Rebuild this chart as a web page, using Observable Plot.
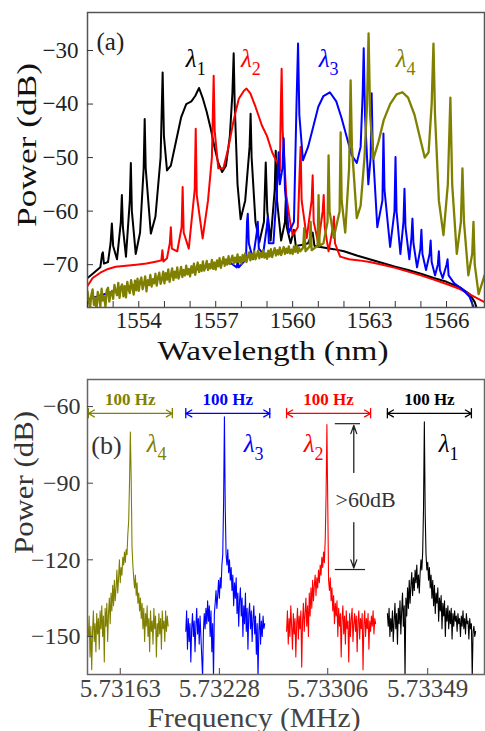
<!DOCTYPE html>
<html><head><meta charset="utf-8">
<script src="https://cdn.jsdelivr.net/npm/d3@7"></script>
<script src="https://cdn.jsdelivr.net/npm/@observablehq/plot@0.6"></script>
<style>
body{margin:0;background:#fff}
#chart svg{display:block}
#chart svg, #chart svg text{font-family:"Liberation Serif","Times New Roman",serif !important}
</style>
</head><body><div id="chart"></div>
<script>
// ---------- Panel (a): optical spectra, [wavelength nm, power dB] ----------
const lambda1A = [[1552.0,-72.5],[1552.25,-71.5],[1552.5,-70.5],[1552.57,-68],[1552.6,-67.7],[1552.64,-69.8],[1552.8,-69.5],[1552.9,-66],[1552.95,-62.3],[1553.0,-66.5],[1553.15,-69],[1553.3,-62],[1553.34,-57],[1553.38,-63],[1553.5,-68.5],[1553.65,-58],[1553.69,-51],[1553.73,-60],[1553.88,-68],[1554.05,-64],[1554.19,-52],[1554.23,-42.8],[1554.27,-52],[1554.47,-64.2],[1554.65,-61],[1554.85,-50],[1554.93,-34.1],[1554.98,-46],[1555.1,-52.4],[1555.25,-51.5],[1555.45,-47],[1555.65,-42.5],[1555.85,-40],[1556.05,-39.5],[1556.2,-38.5],[1556.35,-37],[1556.5,-39],[1556.65,-41.5],[1556.8,-44.5],[1556.95,-48],[1557.1,-51],[1557.25,-52.7],[1557.4,-51.5],[1557.55,-46],[1557.65,-38],[1557.70,-30.5],[1557.74,-40],[1557.85,-55],[1557.97,-61.5],[1558.15,-58],[1558.32,-48],[1558.36,-41.8],[1558.4,-50],[1558.55,-62],[1558.7,-65.8],[1558.88,-62],[1558.95,-50.9],[1559.01,-60],[1559.14,-65.5],[1559.3,-56],[1559.34,-48.7],[1559.39,-58],[1559.55,-65.5],[1559.7,-62],[1559.73,-58],[1559.77,-63],[1559.92,-66],[1560.05,-63.5],[1560.12,-66.5],[1560.4,-66.3],[1560.6,-66],[1560.78,-64],[1560.85,-66.5],[1561.2,-66.8],[1561.6,-67.1],[1562,-67.5],[1562.5,-68.3],[1563,-69],[1563.5,-69.7],[1564,-70.4],[1564.5,-71],[1565,-71.7],[1565.5,-72.5],[1566,-73.2],[1566.5,-74.2],[1566.9,-75.5],[1567.1,-77],[1567.2,-78.5]];
const lambda2A = [[1552.0,-74],[1552.2,-72.5],[1552.5,-71.5],[1552.8,-70.8],[1553.1,-70.4],[1553.5,-70.2],[1553.9,-70],[1554.3,-69.8],[1554.7,-69.4],[1554.88,-69.2],[1554.92,-67.3],[1554.96,-69.4],[1555.1,-68.8],[1555.21,-66],[1555.25,-63],[1555.29,-67],[1555.5,-67.5],[1555.67,-63],[1555.71,-55.5],[1555.75,-64],[1555.95,-67],[1556.18,-56],[1556.22,-44.6],[1556.26,-57],[1556.49,-65.1],[1556.7,-58],[1556.85,-50],[1556.92,-34.7],[1556.96,-45],[1557.1,-52],[1557.3,-52],[1557.5,-48],[1557.7,-43],[1557.9,-39],[1558.1,-37.5],[1558.2,-37.1],[1558.35,-38],[1558.55,-40.5],[1558.8,-44],[1559.0,-46],[1559.2,-49],[1559.4,-51],[1559.5,-52.5],[1559.54,-40],[1559.57,-33.4],[1559.61,-45],[1559.75,-57],[1559.9,-62],[1560.0,-64.5],[1560.2,-63],[1560.27,-53],[1560.31,-48],[1560.35,-58],[1560.55,-65],[1560.74,-58],[1560.78,-53.3],[1560.82,-62],[1561.0,-66],[1561.17,-60],[1561.21,-57],[1561.25,-63],[1561.4,-67.5],[1561.57,-63],[1561.61,-61],[1561.65,-66],[1561.85,-68.5],[1562.2,-69],[1562.6,-69.2],[1563,-69.5],[1563.5,-70],[1564,-70.6],[1564.5,-71.3],[1565,-72],[1565.5,-72.8],[1566,-73.6],[1566.5,-74.5],[1567,-75.8],[1567.48,-77]];
const lambda3A = [[1552.0,-76.5],[1553,-75],[1554,-73.6],[1555,-72.4],[1556,-71.2],[1557,-70],[1557.5,-69.4],[1557.82,-70.5],[1557.86,-69],[1557.9,-70.5],[1558.18,-69],[1558.22,-62],[1558.25,-60.5],[1558.29,-66],[1558.45,-69],[1558.6,-64],[1558.64,-62],[1558.68,-67],[1558.85,-68],[1558.99,-63],[1559.03,-61],[1559.07,-66],[1559.25,-66],[1559.41,-54],[1559.45,-49],[1559.5,-55],[1559.6,-52],[1559.65,-46.4],[1559.7,-56],[1559.85,-64],[1560.05,-62],[1560.15,-40],[1560.21,-28.7],[1560.26,-42],[1560.4,-50.5],[1560.6,-48],[1560.8,-44.3],[1561.0,-40.5],[1561.2,-38.5],[1561.45,-37.8],[1561.7,-39.5],[1561.9,-42.5],[1562.1,-46],[1562.3,-49.5],[1562.5,-51],[1562.65,-48],[1562.73,-38],[1562.77,-29.6],[1562.82,-42],[1562.95,-55],[1563.04,-50],[1563.08,-38],[1563.12,-48],[1563.3,-63],[1563.5,-58],[1563.54,-45.5],[1563.58,-56],[1563.8,-66.7],[1563.97,-60],[1564.01,-49.9],[1564.05,-60],[1564.2,-68],[1564.32,-62],[1564.36,-55.8],[1564.4,-63],[1564.55,-69],[1564.63,-65],[1564.67,-61.4],[1564.71,-66],[1564.85,-70.5],[1564.98,-67],[1565.02,-63.5],[1565.06,-68],[1565.2,-71],[1565.34,-68],[1565.38,-65.5],[1565.42,-69.5],[1565.55,-72],[1565.66,-70],[1565.7,-67.5],[1565.74,-71],[1565.85,-72.5],[1566.0,-70],[1566.04,-69],[1566.08,-72],[1566.3,-73.5],[1566.6,-74.5],[1566.9,-76],[1567.1,-78.5]];
// λ4 noisy floor, sampled every 0.05 nm from 1552.00 nm
const lambda4FloorStart = 1552.0, lambda4FloorStep = 0.05;
const lambda4FloorA = [
-75.0,-76.8,-78.2,-75.6,-74.6,-77.5,-76.2,-78.6,-75.1,-76.0,-77.8,-74.5,-76.7,-75.9,-77.9,-74.8,-74.3,-76.9,-75.4,-74.9,
-76.4,-73.8,-74.9,-75.7,-73.4,-76.2,-74.2,-73.7,-75.9,-74.0,-76.1,-73.2,-74.6,-75.3,-72.9,-74.3,-75.6,-73.0,-74.8,-72.6,
-74.9,-73.1,-72.4,-74.6,-73.6,-72.2,-75.0,-72.9,-73.8,-71.9,-74.1,-72.7,-73.5,-71.7,-73.9,-72.4,-71.5,-73.6,-72.8,-71.3,
-73.5,-71.6,-72.8,-70.9,-73.2,-71.9,-70.7,-72.9,-71.3,-72.4,-70.5,-72.6,-71.7,-70.4,-72.3,-71.0,-72.0,-70.2,-71.8,-70.8,
-72.2,-70.3,-71.5,-69.8,-71.9,-70.6,-69.6,-71.4,-70.1,-71.2,-69.4,-71.1,-70.4,-69.3,-71.0,-69.9,-70.7,-69.1,-70.8,-69.6,
-70.9,-69.2,-70.3,-68.8,-70.6,-69.5,-68.6,-70.2,-69.0,-70.0,-68.4,-69.9,-69.1,-68.3,-69.8,-68.7,-69.6,-68.1,-69.5,-68.6,
-69.8,-68.2,-69.3,-67.9,-69.5,-68.5,-67.7,-69.2,-68.1,-68.9,-67.5,-69.0,-68.3,-67.4,-68.8,-67.8,-68.6,-67.3,-68.7,-67.9,
-68.9,-67.4,-68.5,-67.1,-68.6,-67.7,-66.9,-68.3,-67.3,-68.1,-66.8,-68.2,-67.5,-66.7,-68.0,-67.0,-67.8,-66.6,-67.9,-67.2,
-68.0,-66.6,-67.6,-66.4,-67.8,-66.9,-67.5];
const lambda4LinesA = [[1560.41,-66.8],[1560.45,-63.2],[1560.5,-67.5],[1560.66,-66.6],[1560.70,-62],[1560.74,-67.3],[1560.97,-66.5],[1561.01,-57],[1561.05,-66.5],[1561.2,-66],[1561.36,-62],[1561.40,-49.6],[1561.44,-60],[1561.6,-65],[1561.83,-60],[1561.87,-45.3],[1561.91,-58],[1562.05,-64],[1562.2,-52],[1562.26,-35.6],[1562.31,-48],[1562.5,-61.3],[1562.65,-59],[1562.8,-50],[1562.9,-40],[1562.96,-26.8],[1563.02,-42],[1563.15,-50.2],[1563.35,-47],[1563.55,-43],[1563.8,-40],[1564.05,-38.2],[1564.28,-37.8],[1564.5,-38.8],[1564.75,-42],[1564.95,-46],[1565.15,-50],[1565.3,-49],[1565.42,-40],[1565.49,-28.7],[1565.55,-42],[1565.7,-58],[1565.88,-64.5],[1566.05,-55],[1566.15,-38.8],[1566.22,-55],[1566.4,-68],[1566.56,-62],[1566.62,-52],[1566.68,-62],[1566.85,-72],[1567.0,-68],[1567.05,-62],[1567.1,-70],[1567.25,-75.5],[1567.35,-74],[1567.48,-72]];
const lambda4A = lambda4FloorA.map((y, i) => [lambda4FloorStart + i * lambda4FloorStep, y]).concat(lambda4LinesA);

const seriesNames = ["λ1","λ2","λ3","λ4"];
const seriesColors = ["#000000","#ff0000","#0000ff","#808000"];

const xTicksA = [1554,1557,1560,1563,1566];
const xMinorTicksA = [1552,1553,1554,1555,1556,1557,1558,1559,1560,1561,1562,1563,1564,1565,1566,1567];
const yTicksA = [-30,-40,-50,-60,-70];
const labelPosA = [[1556.14,-31.6],[1558.29,-31.6],[1561.32,-31.6],[1564.32,-31.6]];

// ---------- Panel (b): RF spectra, 1 Hz steps within each 100 Hz window ----------
const lambda4B = [-150,-142,-158,-146,-163,-148,-140,-152,-145,-156,-141,-149,-143,-155,-140,-147,-138,-150,-142,-160,-139,-146,-137,-152,-141,-135,-145,-133,-140,-130,-138,-128,-136,-131,-124,-133,-127,-120,-129,-123,-126,-119,-122,-117,-121,-116,-118,-110,-105,-90,-70,-88,-115,-122,-127,-131,-126,-134,-129,-137,-133,-140,-135,-143,-137,-147,-139,-152,-141,-146,-138,-150,-143,-156,-140,-148,-144,-153,-139,-147,-142,-158,-145,-150,-141,-149,-143,-155,-140,-147,-144,-152,-140,-148,-142,-146];
const lambda3B = [-148,-140,-155,-143,-152,-145,-160,-147,-141,-150,-144,-156,-146,-139,-149,-143,-153,-142,-150,-158,-166,-148,-141,-147,-139,-145,-136,-144,-138,-150,-140,-156,-145,-166,-141,-137,-132,-139,-134,-128,-135,-127,-131,-122,-118,-98,-64,-100,-118,-122,-116,-125,-120,-128,-123,-132,-126,-138,-129,-135,-127,-141,-133,-146,-136,-131,-142,-135,-150,-138,-145,-133,-148,-139,-155,-141,-137,-147,-140,-152,-143,-138,-149,-142,-157,-145,-166,-148,-141,-153,-144,-150,-142,-147,-145];
const lambda2B = [-148,-140,-153,-143,-150,-138,-146,-155,-141,-149,-143,-158,-145,-139,-151,-142,-147,-140,-162,-144,-137,-148,-141,-135,-146,-138,-150,-133,-142,-131,-139,-128,-136,-130,-126,-134,-127,-131,-124,-129,-122,-126,-119,-123,-117,-121,-112,-95,-67,-98,-128,-132,-127,-136,-131,-140,-134,-145,-137,-142,-136,-150,-139,-146,-141,-158,-143,-138,-149,-142,-153,-140,-147,-144,-160,-141,-150,-143,-139,-152,-145,-141,-148,-142,-156,-144,-140,-151,-143,-147,-141,-163,-145,-140,-150,-143,-147,-141,-155,-144,-148,-142,-146,-140,-149,-143,-145];
const lambda1B = [-141,-146,-139,-150,-143,-148,-140,-152,-144,-137,-147,-141,-153,-139,-145,-136,-149,-140,-133,-146,-138,-166,-135,-142,-131,-139,-128,-137,-130,-125,-134,-127,-132,-124,-129,-122,-131,-126,-133,-125,-120,-124,-117,-100,-66,-102,-118,-124,-121,-128,-123,-131,-126,-135,-128,-138,-130,-141,-133,-137,-131,-144,-135,-140,-134,-147,-137,-142,-136,-150,-139,-144,-138,-147,-140,-145,-139,-151,-141,-146,-140,-144,-142,-148,-141,-145,-143,-150,-142,-146,-140,-147,-143,-149,-141,-145,-144,-151,-143,-147,-145,-166,-148,-146,-150,-148];

// broken-axis layout of panel (b)
const segOrder = [3, 2, 1, 0];           // left to right: λ4, λ3, λ2, λ1
const segStart = [1, 117, 237, 357];
const xTicksB = [39, 157, 286, 405];
const xTickLabelsB = ["5.73163","5.73228","5.73306","5.73349"];
const yTicksB = [-60,-90,-120,-150];
const spanHz = 100;
const spanLabel = "100 Hz";
const spanArrowY = -62.7, spanBar = [-60.8,-64.8], spanTextY = -57.4;
const labelPosB = [[79.8,-74.8],[195.2,-74.8],[266.7,-74.8],[427.4,-74.8]];
const panelLetterB = [22.6,-75.5];
const dynX = 317, dynTop = -66.7, dynBottom = -123.8, dynBarTop = [295,325], dynBarBottom = [295,331];
const dynArrowUp = [-85.8,-67.4], dynArrowDown = [-105.4,-123.2], dynText = [331,-96.5];

const serif = "'Liberation Serif', 'Times New Roman', serif";
const svgStyle = `font-family: ${serif}; background: white; overflow: visible;`;

// ---------- panel (a) ----------
const seriesA = [lambda1A, lambda2A, lambda3A, lambda4A];
const marksA = [];
seriesA.forEach((s, i) => {
  marksA.push(Plot.line(s, {x: d => d[0], y: d => d[1], stroke: seriesColors[i], strokeWidth: i === 3 ? 2.3 : 2, clip: true}));
});
marksA.push(
  Plot.frame({stroke: "#555", strokeWidth: 1.5}),
  Plot.axisX({ticks: xMinorTicksA, tickSize: -6, tickFormat: () => "", label: null, stroke: "#333"}),
  Plot.axisX({ticks: xTicksA, tickSize: 0, tickPadding: 4, tickFormat: d3.format("d"), fontSize: 23, label: null, fill: "#222"}),
  Plot.axisY({ticks: yTicksA, tickSize: -6, tickFormat: () => "", label: null, stroke: "#333"}),
  Plot.axisY({ticks: yTicksA, tickSize: 0, tickPadding: 9, fontSize: 23, label: null, fill: "#222"}),
  Plot.text(["Power (dB)"], {frameAnchor: "left", rotate: -90, textAnchor: "start", dx: -60, dy: 67, fontSize: 28, fill: "#111"}),
  Plot.text(["Wavelength (nm)"], {frameAnchor: "bottom", lineAnchor: "bottom", dx: -13, dy: 52, fontSize: 28, fill: "#111"}),
  Plot.text(["(a)"], {frameAnchor: "top-left", textAnchor: "start", lineAnchor: "top", dx: 9, dy: 20, fontSize: 25, fill: "#222"}),
  Plot.text(labelPosA, {x: d => d[0], y: d => d[1], text: () => "λ", fill: (d, i) => seriesColors[i], fontStyle: "italic", fontSize: 25, textAnchor: "end", dx: 3}),
  Plot.text(labelPosA, {x: d => d[0], y: d => d[1], text: (d, i) => seriesNames[i].slice(1), fill: (d, i) => seriesColors[i], fontSize: 18, textAnchor: "start", dx: 3, dy: 10})
);
const plotA = Plot.plot({
  width: 485, height: 370, marginTop: 12, marginBottom: 63, marginLeft: 87, marginRight: 1,
  style: svgStyle,
  x: {domain: [1552.0, 1567.48]},
  y: {domain: [-78, -22.9]},
  marks: marksA
});

// ---------- panel (b) ----------
const seriesB = [lambda1B, lambda2B, lambda3B, lambda4B];
const segs = segOrder.map((si, k) => ({si, start: segStart[k], color: seriesColors[si], name: seriesNames[si]}));
const marksB = [];
segs.forEach(seg => {
  marksB.push(Plot.line(seriesB[seg.si], {x: (d, i) => seg.start + i, y: d => d, stroke: seg.color, strokeWidth: 1.1, clip: true}));
});
marksB.push(
  Plot.arrow(segs, {x1: d => d.start + spanHz / 2, x2: d => d.start, y1: spanArrowY, y2: spanArrowY, stroke: d => d.color, strokeWidth: 1.3, headLength: 8}),
  Plot.arrow(segs, {x1: d => d.start + spanHz / 2, x2: d => d.start + spanHz, y1: spanArrowY, y2: spanArrowY, stroke: d => d.color, strokeWidth: 1.3, headLength: 8}),
  Plot.ruleX(segs, {x: d => d.start, y1: spanBar[0], y2: spanBar[1], stroke: d => d.color, strokeWidth: 1.3}),
  Plot.ruleX(segs, {x: d => d.start + spanHz, y1: spanBar[0], y2: spanBar[1], stroke: d => d.color, strokeWidth: 1.3}),
  Plot.text(segs, {x: d => d.start + spanHz / 2, y: spanTextY, text: () => spanLabel, fill: d => d.color, fontSize: 17, fontWeight: "bold"}),
  Plot.ruleY([dynTop], {x1: dynBarTop[0], x2: dynBarTop[1], stroke: "#222", strokeWidth: 1.2}),
  Plot.ruleY([dynBottom], {x1: dynBarBottom[0], x2: dynBarBottom[1], stroke: "#222", strokeWidth: 1.2}),
  Plot.arrow([0], {x1: dynX, x2: dynX, y1: dynArrowUp[0], y2: dynArrowUp[1], stroke: "#222", strokeWidth: 1.3, headLength: 10, headAngle: 40}),
  Plot.arrow([0], {x1: dynX, x2: dynX, y1: dynArrowDown[0], y2: dynArrowDown[1], stroke: "#222", strokeWidth: 1.3, headLength: 10, headAngle: 40}),
  Plot.text([">60dB"], {x: dynText[0], y: dynText[1], fontSize: 22, fill: "#333"}),
  Plot.frame({stroke: "#666", strokeWidth: 1.5}),
  Plot.axisX({ticks: xTicksB, tickSize: -6, tickFormat: () => "", label: null, stroke: "#444"}),
  Plot.axisX({ticks: xTicksB, tickSize: 0, tickPadding: 5, tickFormat: (d, i) => xTickLabelsB[i], fontSize: 25, label: null, fill: "#444"}),
  Plot.axisY({ticks: yTicksB, tickSize: -6, tickFormat: () => "", label: null, stroke: "#444"}),
  Plot.axisY({ticks: yTicksB, tickSize: 0, tickPadding: 7, fontSize: 24, label: null, fill: "#333"}),
  Plot.text(["Power (dB)"], {frameAnchor: "left", rotate: -90, textAnchor: "start", dx: -63, dy: 27, fontSize: 28, fill: "#333"}),
  Plot.text(["Frequency (MHz)"], {frameAnchor: "bottom", lineAnchor: "bottom", dx: -32, dy: 52, fontSize: 27, fill: "#444"}),
  Plot.text([panelLetterB], {x: d => d[0], y: d => d[1], text: () => "(b)", fontSize: 26, fill: "#333"}),
  Plot.text(labelPosB, {x: d => d[0], y: d => d[1], text: () => "λ", fill: (d, i) => segs[i].color, fontStyle: "italic", fontSize: 25, textAnchor: "end", dx: 3}),
  Plot.text(labelPosB, {x: d => d[0], y: d => d[1], text: (d, i) => segs[i].name.slice(1), fill: (d, i) => segs[i].color, fontSize: 18, textAnchor: "start", dx: 3, dy: 10})
);
const plotB = Plot.plot({
  width: 485, height: 361, marginTop: 9, marginBottom: 57, marginLeft: 87, marginRight: 1,
  style: svgStyle,
  x: {domain: [0, 472.6]},
  y: {domain: [-164.9, -49.4]},
  marks: marksB
});

// stretch the axis titles to the lengths seen in the figure
const titleLengths = {"Wavelength (nm)": 231, "Frequency (MHz)": 213};
function stretchTitles(svg, powerLen) {
  d3.select(svg).selectAll("text").each(function() {
    const t = this.textContent;
    const len = t === "Power (dB)" ? powerLen : titleLengths[t];
    if (len) { this.setAttribute("textLength", len); this.setAttribute("lengthAdjust", "spacingAndGlyphs"); }
  });
}
stretchTitles(plotA, 164);
stretchTitles(plotB, 143);

document.getElementById("chart").append(plotA, plotB);
</script>
</body></html>
